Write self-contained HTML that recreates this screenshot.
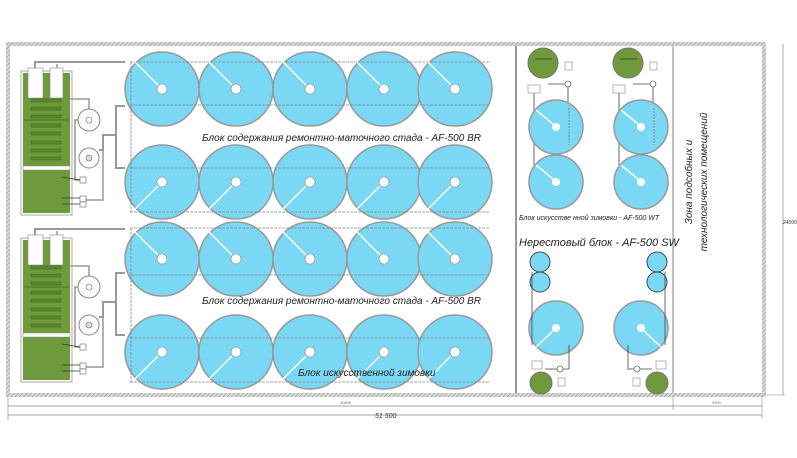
<!DOCTYPE html>
<html><head><meta charset="utf-8"><style>
html,body{margin:0;padding:0;background:#fff;}
svg{display:block;font-family:"Liberation Sans",sans-serif;}
</style></head><body>
<svg width="797" height="458" viewBox="0 0 797 458" xmlns="http://www.w3.org/2000/svg">
<defs>
<pattern id="h" width="3" height="3" patternUnits="userSpaceOnUse" patternTransform="rotate(45)">
<rect width="3" height="3" fill="#d8d8d8"/><line x1="0" y1="0" x2="0" y2="3" stroke="#888" stroke-width="1"/>
</pattern>
<g id="big">
<circle r="37" fill="#7ad8f4" stroke="#999" stroke-width="1.5"/>
<circle r="5" fill="#fff" stroke="#888" stroke-width="0.6"/>
</g>
</defs>
<!-- walls -->
<rect x="6" y="42" width="760" height="4" fill="url(#h)"/>
<rect x="6" y="393" width="760" height="4" fill="url(#h)"/>
<rect x="6" y="42" width="4" height="355" fill="url(#h)"/>
<rect x="762" y="42" width="4" height="355" fill="url(#h)"/>
<line x1="516" y1="46" x2="516" y2="393" stroke="#999" stroke-width="2"/>
<line x1="673" y1="46" x2="673" y2="393" stroke="#999" stroke-width="1.2"/>
<!-- dimensions -->
<line x1="8" y1="406" x2="762" y2="406" stroke="#888" stroke-width="0.7"/>
<line x1="8" y1="415" x2="762" y2="415" stroke="#888" stroke-width="0.7"/>
<line x1="673" y1="397" x2="673" y2="410" stroke="#888" stroke-width="0.6"/>
<line x1="762" y1="397" x2="762" y2="418" stroke="#888" stroke-width="0.6"/>
<line x1="8" y1="397" x2="8" y2="420" stroke="#888" stroke-width="0.6"/>
<text x="340" y="404" font-size="4" fill="#777">40800</text>
<text x="712" y="404" font-size="4" fill="#777">9900</text>
<text x="375" y="418" font-size="7" font-style="italic" fill="#333">51 500</text>
<line x1="783" y1="44" x2="783" y2="395" stroke="#888" stroke-width="0.7"/>
<line x1="766" y1="395" x2="785" y2="395" stroke="#888" stroke-width="0.6"/>
<text x="783" y="224" font-size="5" font-style="italic" fill="#333">24000</text>
<!-- left equipment blocks -->
<g id="eq">
<rect x="21" y="71" width="51" height="144" fill="#fff" stroke="#aaa" stroke-width="1"/>
<rect x="23" y="73" width="47" height="140" fill="#6e9a3c"/>
<rect x="23" y="166" width="47" height="4" fill="#fff" stroke="#888" stroke-width="0.5"/>
<g fill="#5b8a30" stroke="#3f6a1e" stroke-width="0.6">
<rect x="31" y="99" width="30" height="3"/><rect x="31" y="107" width="30" height="3"/><rect x="31" y="115" width="30" height="3"/><rect x="31" y="124" width="30" height="3"/><rect x="31" y="132" width="30" height="3"/><rect x="31" y="141" width="30" height="3"/><rect x="31" y="149" width="30" height="3"/><rect x="31" y="157" width="30" height="3"/>
</g>
<line x1="23" y1="120" x2="70" y2="120" stroke="#3f6a1e" stroke-width="0.7"/>
<rect x="28" y="68" width="15" height="30" fill="#fff" stroke="#888" stroke-width="0.6"/>
<rect x="50" y="68" width="13" height="30" fill="#fff" stroke="#888" stroke-width="0.6"/>
<polyline points="35,68 35,62 125,62" fill="none" stroke="#999" stroke-width="2"/>
<polyline points="57,68 57,64" fill="none" stroke="#999" stroke-width="1.5"/>
<polyline points="70,99 89,99 89,109" fill="none" stroke="#999" stroke-width="1.5"/>
<circle cx="89" cy="120" r="11" fill="#fff" stroke="#888"/><circle cx="89" cy="120" r="3" fill="#fff" stroke="#666" stroke-width="0.6"/>
<circle cx="89" cy="158" r="10" fill="#fff" stroke="#888"/><circle cx="89" cy="158" r="3" fill="#ddd" stroke="#666" stroke-width="0.6"/>
<polyline points="78,120 75,120 75,180 82,180" fill="none" stroke="#999" stroke-width="1.5"/>
<polyline points="99,150 103,150 103,135 116,135 116,106 125,106" fill="none" stroke="#999" stroke-width="2"/>
<polyline points="116,135 116,168 125,168" fill="none" stroke="#999" stroke-width="2"/>
<polyline points="83,200 103,200 103,135" fill="none" stroke="#999" stroke-width="1.5"/>
<rect x="80" y="177" width="6" height="6" fill="#fff" stroke="#666" stroke-width="0.6"/>
<rect x="80" y="196" width="6" height="6" fill="#fff" stroke="#666" stroke-width="0.6"/>
<rect x="80" y="202" width="6" height="5" fill="#fff" stroke="#666" stroke-width="0.6"/>
<line x1="62" y1="177" x2="80" y2="180" stroke="#333" stroke-width="0.8"/>
<line x1="62" y1="198" x2="80" y2="198" stroke="#333" stroke-width="0.8"/>
<line x1="62" y1="204" x2="80" y2="204" stroke="#333" stroke-width="0.8"/>
</g>
<use href="#eq" transform="translate(0,167)"/>
<!-- big tanks -->
<g>
<use href="#big" x="162" y="89"/><use href="#big" x="236" y="89"/><use href="#big" x="310" y="89"/><use href="#big" x="384" y="89"/><use href="#big" x="455" y="89"/>
<use href="#big" x="162" y="182"/><use href="#big" x="236" y="182"/><use href="#big" x="310" y="182"/><use href="#big" x="384" y="182"/><use href="#big" x="455" y="182"/>
<use href="#big" x="162" y="259"/><use href="#big" x="236" y="259"/><use href="#big" x="310" y="259"/><use href="#big" x="384" y="259"/><use href="#big" x="455" y="259"/>
<use href="#big" x="162" y="352"/><use href="#big" x="236" y="352"/><use href="#big" x="310" y="352"/><use href="#big" x="384" y="352"/><use href="#big" x="455" y="352"/>
</g>
<g stroke="#888" stroke-width="0.8" fill="none" stroke-dasharray="3,1">
<line x1="130" y1="105" x2="490" y2="105"/><line x1="130" y1="168" x2="490" y2="168"/>
<line x1="130" y1="62" x2="490" y2="62"/><line x1="130" y1="212" x2="490" y2="212"/>
<line x1="130" y1="275" x2="490" y2="275"/><line x1="130" y1="338" x2="490" y2="338"/>
<line x1="130" y1="228" x2="490" y2="228"/><line x1="130" y1="382" x2="490" y2="382"/>
<line x1="131" y1="62" x2="131" y2="212"/><line x1="131" y1="228" x2="131" y2="382"/>
</g>
<g stroke="#fff" stroke-width="1.5">
<line x1="135" y1="62" x2="158" y2="85"/><line x1="209" y1="62" x2="232" y2="85"/><line x1="283" y1="62" x2="306" y2="85"/><line x1="357" y1="62" x2="380" y2="85"/><line x1="428" y1="62" x2="451" y2="85"/>
<line x1="135" y1="209" x2="158" y2="186"/><line x1="209" y1="209" x2="232" y2="186"/><line x1="283" y1="209" x2="306" y2="186"/><line x1="357" y1="209" x2="380" y2="186"/><line x1="428" y1="209" x2="451" y2="186"/>
<line x1="135" y1="232" x2="158" y2="255"/><line x1="209" y1="232" x2="232" y2="255"/><line x1="283" y1="232" x2="306" y2="255"/><line x1="357" y1="232" x2="380" y2="255"/><line x1="428" y1="232" x2="451" y2="255"/>
<line x1="135" y1="379" x2="158" y2="356"/><line x1="209" y1="379" x2="232" y2="356"/><line x1="283" y1="379" x2="306" y2="356"/><line x1="357" y1="379" x2="380" y2="356"/><line x1="428" y1="379" x2="451" y2="356"/>
</g>
<text x="202" y="141" font-size="10" font-style="italic" fill="#222">Блок содержания ремонтно-маточного стада - AF-500 BR</text>
<text x="202" y="304" font-size="10" font-style="italic" fill="#222">Блок содержания ремонтно-маточного стада - AF-500 BR</text>
<text x="298" y="376" font-size="10" font-style="italic" fill="#222">Блок искусственной зимовки</text>
<!-- right WT block -->
<g id="wt">
<circle cx="543" cy="63" r="15" fill="#6e9a3c" stroke="#777"/>
<line x1="535" y1="59" x2="552" y2="59" stroke="#333" stroke-width="0.8"/>
<rect x="565" y="62" width="7" height="8" fill="#fff" stroke="#888" stroke-width="0.6"/>
<rect x="528" y="85" width="12" height="8" fill="#fff" stroke="#888" stroke-width="0.6"/>
<line x1="548" y1="84" x2="568" y2="84" stroke="#444" stroke-width="0.8"/>
<circle cx="568" cy="84" r="3" fill="#fff" stroke="#444" stroke-width="0.6"/>
<line x1="568" y1="87" x2="568" y2="103" stroke="#444" stroke-width="0.8"/>
<line x1="534" y1="93" x2="534" y2="165" stroke="#999" stroke-width="1.5"/>
<circle cx="556" cy="127" r="27" fill="#7ad8f4" stroke="#999" stroke-width="1.5"/>
<circle cx="556" cy="182" r="27" fill="#7ad8f4" stroke="#999" stroke-width="1.5"/>
<circle cx="556" cy="127" r="4" fill="#fff"/><circle cx="556" cy="182" r="4" fill="#fff"/>
<line x1="536" y1="110" x2="553" y2="124" stroke="#fff" stroke-width="1.5"/>
<line x1="536" y1="165" x2="553" y2="179" stroke="#fff" stroke-width="1.5"/>
<line x1="569" y1="108" x2="569" y2="145" stroke="#777" stroke-width="0.8" stroke-dasharray="2,1"/>
</g>
<use href="#wt" transform="translate(85,0)"/>
<text x="519" y="220" font-size="7" font-style="italic" fill="#222">Блок искусстве нной зимовки - AF-500 WT</text>
<text x="519" y="246" font-size="11" font-style="italic" fill="#222">Нерестовый блок - AF-500 SW</text>
<!-- SW block -->
<g fill="#7ad8f4" stroke="#444" stroke-width="1">
<circle cx="540" cy="262" r="10"/><circle cx="540" cy="282" r="10"/>
<circle cx="657" cy="262" r="10"/><circle cx="657" cy="282" r="10"/>
</g>
<g fill="#7ad8f4" stroke="#999" stroke-width="1.5">
<circle cx="556" cy="328" r="27"/><circle cx="641" cy="328" r="27"/>
</g>
<circle cx="556" cy="328" r="4" fill="#fff"/><circle cx="641" cy="328" r="4" fill="#fff"/>
<line x1="536" y1="347" x2="553" y2="331" stroke="#fff" stroke-width="1.5"/>
<line x1="661" y1="347" x2="644" y2="331" stroke="#fff" stroke-width="1.5"/>
<g stroke="#444" stroke-width="0.8" fill="none">
<polyline points="532,272 532,345"/><polyline points="665,272 665,345"/>
<polyline points="569,345 569,369 545,369"/><polyline points="628,345 628,369 652,369"/>
</g>
<rect x="532" y="361" width="10" height="8" fill="#fff" stroke="#888" stroke-width="0.6"/>
<rect x="656" y="361" width="10" height="8" fill="#fff" stroke="#888" stroke-width="0.6"/>
<circle cx="560" cy="369" r="3" fill="#fff" stroke="#444" stroke-width="0.6"/>
<circle cx="637" cy="369" r="3" fill="#fff" stroke="#444" stroke-width="0.6"/>
<rect x="558" y="378" width="7" height="8" fill="#fff" stroke="#888" stroke-width="0.6"/>
<rect x="633" y="378" width="7" height="8" fill="#fff" stroke="#888" stroke-width="0.6"/>
<circle cx="541" cy="383" r="11" fill="#6e9a3c" stroke="#777"/>
<circle cx="657" cy="383" r="11" fill="#6e9a3c" stroke="#777"/>
<!-- zone text -->
<g transform="translate(692,182) rotate(-90)" font-size="10" font-style="italic" fill="#222" text-anchor="middle">
<text x="0" y="0">Зона подсобных и</text>
<text x="0" y="15">технологических помещений</text>
</g>
</svg>
</body></html>
